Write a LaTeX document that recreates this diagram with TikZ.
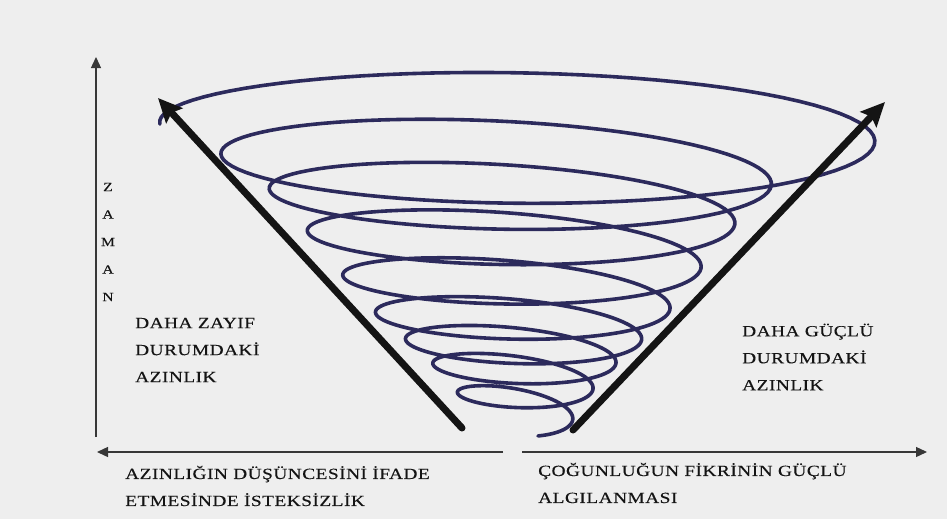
\documentclass[tikz,border=0pt]{standalone}
\usepackage{fontspec}
\setmainfont{Liberation Serif}
\newfontfamily\capsfont{Liberation Serif}[FakeStretch=1.25, LetterSpace=3, FakeBold=0.3]
\usetikzlibrary{arrows.meta, positioning}
\definecolor{spiralblue}{HTML}{2C2A5C}
\definecolor{paper}{HTML}{EEEEEE}
\definecolor{ink}{HTML}{141414}

\begin{document}
\begin{tikzpicture}[
    x=1pt, y=-1pt,
    declare function={
        wid(\t)=271-40*(\t-1.25)+1.35*(\t-1.25)*(\t-1.25)+68*exp(0-((\t-0.4)/0.4)*((\t-0.4)/0.4));
        lev(\t)=124+34*\t+25*exp(0-((\t-4.75)/2)*((\t-4.75)/2));
        tilt(\t)=(9-0.35*\t)*(1-exp(0-2*\t*\t));
    },
    axis/.style={draw=ink!85, line width=1.3pt, -{Triangle[length=11pt, width=10pt]}},
    bigarrow/.style={draw=ink, line width=7pt, line cap=round, -{Stealth[length=24pt, width=22pt, inset=4pt]}},
    spiral/.style={draw=spiralblue, line width=3.6pt, line cap=round, line join=round},
    lbl/.style={font=\capsfont\fontsize{15.5}{27}\selectfont, text=ink, align=left, anchor=west, inner sep=0pt},
    tlbl/.style={font=\capsfont\fontsize{12.5}{27.5}\selectfont, text=ink, align=center, inner sep=0pt},
]
    \fill[paper] (0,0) rectangle (947,519);
    \useasboundingbox (0,0) rectangle (947,519);

    % axes
    \coordinate (origin) at (96,437);
    \coordinate (timetop) at (96,57);
    \coordinate (leftstart) at (503,452);
    \coordinate (leftend) at (97,452);
    \coordinate (rightstart) at (522,452);
    \coordinate (rightend) at (927,452);
    \draw[axis] (origin) -- (timetop);
    \draw[axis] (leftstart) -- (leftend);
    \draw[axis] (rightstart) -- (rightend);

    % spiral, widening as time goes up
    \draw[spiral] plot[domain=0:8.7, samples=800]
        ({508+1.5*\x+wid(\x)*cos(180-360*\x)},
         {lev(\x)+tilt(\x)*cos(180-360*\x)-(0.14*wid(\x)+8)*sin(180-360*\x)});

    % the two minority arrows
    \coordinate (weakfoot) at (462,428);
    \coordinate (weaktip) at (158,98);
    \coordinate (strongfoot) at (573,430);
    \coordinate (strongtip) at (885,102);
    \draw[bigarrow] (weakfoot) -- (weaktip);
    \draw[bigarrow] (strongfoot) -- (strongtip);

    % labels
    \node[tlbl] (zaman) at (108,242) {Z\\A\\M\\A\\N};
    \node[lbl] (weak) at (135,350) {DAHA ZAYIF\\DURUMDAKİ\\AZINLIK};
    \node[lbl] (strong) at (742,357) {DAHA GÜÇLÜ\\DURUMDAKİ\\AZINLIK};
    \node[lbl] (reluct) at (125,486) {AZINLIĞIN DÜŞÜNCESİNİ İFADE\\ETMESİNDE İSTEKSİZLİK};
    \node[lbl] (major) at (538,483) {ÇOĞUNLUĞUN FİKRİNİN GÜÇLÜ\\ALGILANMASI};
\end{tikzpicture}
\end{document}
